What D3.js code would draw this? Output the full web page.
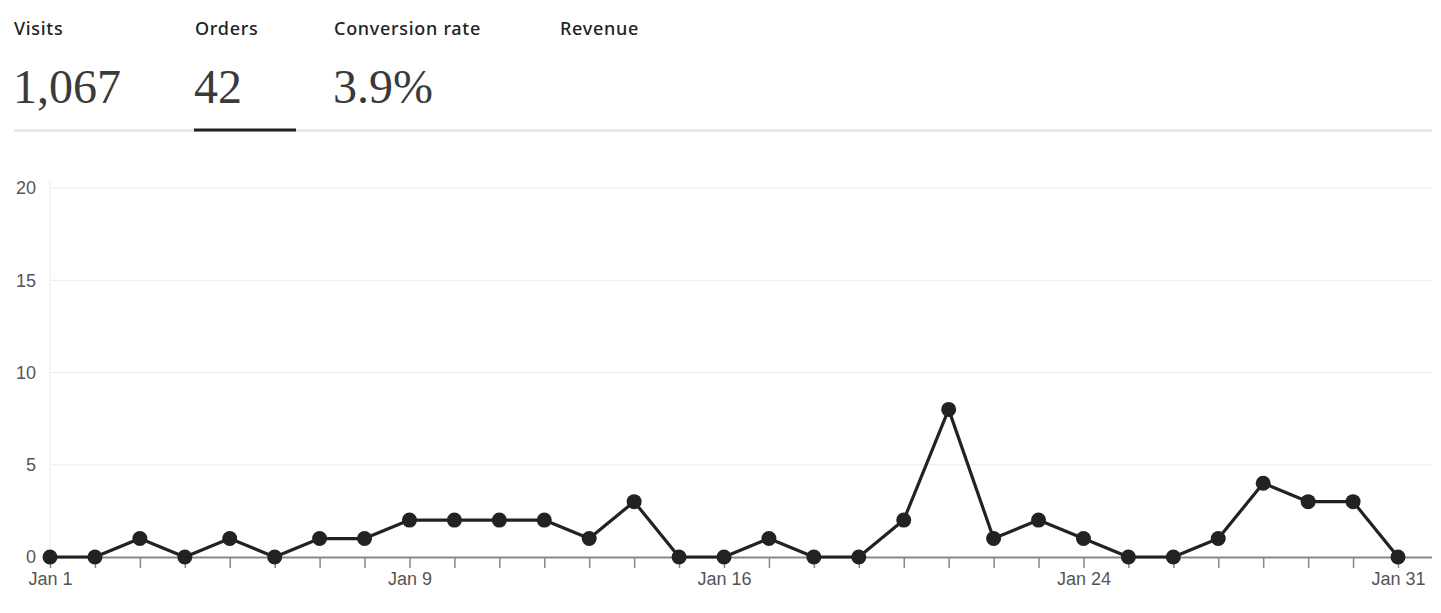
<!DOCTYPE html>
<html>
<head>
<meta charset="utf-8">
<script src="https://cdn.jsdelivr.net/npm/d3@7"></script>
<style>
  html, body { margin: 0; padding: 0; background: #fff; }
  svg { display: block; }
</style>
</head>
<body>
<svg id="chart" width="1441" height="613"></svg>
<script>
// ---- data ----
const metricLabels = ["Visits", "Orders", "Conversion rate", "Revenue"];
const metricValues = ["1,067", "42", "3.9%", ""];
const days = d3.range(1, 32);
const orders = [0,0,1,0,1,0,1,1,2,2,2,2,1,3,0,0,1,0,0,2,8,1,2,1,0,0,1,4,3,3,0];
const yTicks = [0, 5, 10, 15, 20];
const xLabelDays = [1, 9, 16, 24, 31];
const activeMetric = 1;

// ---- layout ----
const svg = d3.select("#chart");
const metricX = [14, 195, 334, 560];
const underlineW = [0, 102, 0, 0];

// header
const hdr = svg.append("g");
metricLabels.forEach((lab, i) => {
  hdr.append("text")
    .attr("x", metricX[i]).attr("y", 35)
    .attr("font-family", "'Noto Sans', 'Open Sans', sans-serif")
    .attr("font-weight", 500)
    .attr("font-size", 18)
    .attr("letter-spacing", 0.7)
    .attr("fill", "#222")
    .text(lab);
  if (metricValues[i]) {
    hdr.append("text")
      .attr("x", metricX[i] - 1).attr("y", 103)
      .attr("font-family", "'Liberation Serif', 'DejaVu Serif', serif")
      .attr("font-size", 48)
      .attr("fill", "#3a3a3a")
      .text(metricValues[i]);
  }
});
hdr.append("rect").attr("x", 14).attr("y", 129).attr("width", 1418).attr("height", 3).attr("fill", "#e9e9e9");
hdr.append("rect").attr("x", metricX[activeMetric] - 1).attr("y", 128.5).attr("width", underlineW[activeMetric]).attr("height", 3).attr("fill", "#222");

// chart
const x = d3.scaleLinear().domain([1, 31]).range([50, 1398]);
const y = d3.scaleLinear().domain([0, 20]).range([557, 188]);
const right = 1432;

const g = svg.append("g");

// gridlines
g.selectAll(".hgrid").data(yTicks.filter(d => d > 0)).join("line")
  .attr("x1", x(1)).attr("x2", right)
  .attr("y1", d => y(d)).attr("y2", d => y(d))
  .attr("stroke", "#ececec").attr("stroke-width", 1);
g.append("line")
  .attr("x1", x(1)).attr("x2", x(1)).attr("y1", 180).attr("y2", y(0))
  .attr("stroke", "#ececec").attr("stroke-width", 1);

// y axis labels
const yAxis = d3.axisLeft(y).tickValues(yTicks).tickSize(0).tickPadding(0);
const yg = g.append("g").attr("transform", "translate(36,0)").call(yAxis);
yg.select(".domain").remove();
yg.selectAll("text")
  .attr("font-family", "'Liberation Sans', Arial, sans-serif")
  .attr("font-size", 18).attr("fill", "#555");

// x axis
const xAxis = d3.axisBottom(x).tickValues(days).tickSize(11).tickSizeOuter(0)
  .tickFormat(d => xLabelDays.includes(d) ? "Jan " + d : "");
const xg = g.append("g").attr("transform", `translate(0,${y(0)})`).call(xAxis);
xg.select(".domain").remove();
xg.append("line").attr("x1", x(1)).attr("x2", right).attr("y1", 0.5).attr("y2", 0.5)
  .attr("stroke", "#888").attr("stroke-width", 2);
xg.selectAll(".tick line").attr("stroke", "#888").attr("stroke-width", 1.5);
xg.selectAll("text")
  .attr("font-family", "'Liberation Sans', Arial, sans-serif")
  .attr("font-size", 18).attr("fill", "#555")
  .attr("dy", "0").attr("y", 28);

// line
const data = days.map((d, i) => ({ d, v: orders[i] }));
g.append("path").datum(data)
  .attr("fill", "none").attr("stroke", "#222").attr("stroke-width", 3.2)
  .attr("stroke-linejoin", "round")
  .attr("d", d3.line().x(p => x(p.d)).y(p => y(p.v)));
g.selectAll(".pt").data(data).join("circle")
  .attr("cx", p => x(p.d)).attr("cy", p => y(p.v)).attr("r", 7.5)
  .attr("fill", "#222");
</script>
</body>
</html>
